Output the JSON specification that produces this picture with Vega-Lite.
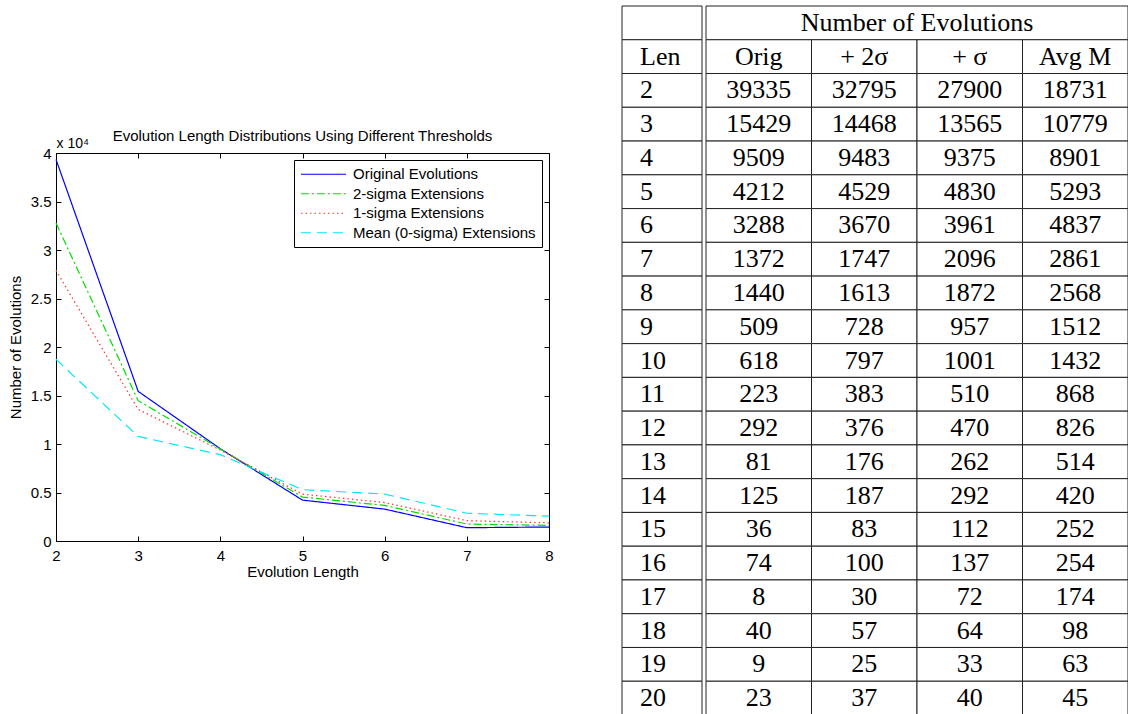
{
  "$schema": "https://vega.github.io/schema/vega-lite/v6.json",
  "padding": {"left": 8, "top": 5, "right": 0, "bottom": 0},
  "background": "white",
  "config": {"view": {"stroke": null}, "font": "Liberation Sans"},
  "datasets": {
    "evo": [
      {"Len": 2, "Orig": 39335, "Sigma2": 32795, "Sigma1": 27900, "AvgM": 18731},
      {"Len": 3, "Orig": 15429, "Sigma2": 14468, "Sigma1": 13565, "AvgM": 10779},
      {"Len": 4, "Orig": 9509, "Sigma2": 9483, "Sigma1": 9375, "AvgM": 8901},
      {"Len": 5, "Orig": 4212, "Sigma2": 4529, "Sigma1": 4830, "AvgM": 5293},
      {"Len": 6, "Orig": 3288, "Sigma2": 3670, "Sigma1": 3961, "AvgM": 4837},
      {"Len": 7, "Orig": 1372, "Sigma2": 1747, "Sigma1": 2096, "AvgM": 2861},
      {"Len": 8, "Orig": 1440, "Sigma2": 1613, "Sigma1": 1872, "AvgM": 2568},
      {"Len": 9, "Orig": 509, "Sigma2": 728, "Sigma1": 957, "AvgM": 1512},
      {"Len": 10, "Orig": 618, "Sigma2": 797, "Sigma1": 1001, "AvgM": 1432},
      {"Len": 11, "Orig": 223, "Sigma2": 383, "Sigma1": 510, "AvgM": 868},
      {"Len": 12, "Orig": 292, "Sigma2": 376, "Sigma1": 470, "AvgM": 826},
      {"Len": 13, "Orig": 81, "Sigma2": 176, "Sigma1": 262, "AvgM": 514},
      {"Len": 14, "Orig": 125, "Sigma2": 187, "Sigma1": 292, "AvgM": 420},
      {"Len": 15, "Orig": 36, "Sigma2": 83, "Sigma1": 112, "AvgM": 252},
      {"Len": 16, "Orig": 74, "Sigma2": 100, "Sigma1": 137, "AvgM": 254},
      {"Len": 17, "Orig": 8, "Sigma2": 30, "Sigma1": 72, "AvgM": 174},
      {"Len": 18, "Orig": 40, "Sigma2": 57, "Sigma1": 64, "AvgM": 98},
      {"Len": 19, "Orig": 9, "Sigma2": 25, "Sigma1": 33, "AvgM": 63},
      {"Len": 20, "Orig": 23, "Sigma2": 37, "Sigma1": 40, "AvgM": 45}
    ]
  },
  "spacing": 67,
  "resolve": {"legend": {"color": "independent", "strokeDash": "independent"}, "scale": {"color": "independent", "strokeDash": "independent"}},
  "hconcat": [
    {
      "spacing": 0,
      "resolve": {"legend": {"color": "independent", "strokeDash": "independent"}, "scale": {"color": "independent", "strokeDash": "independent"}},
      "vconcat": [
        {
          "width": 493,
          "height": 123,
          "data": {"values": [{}]},
          "mark": {"type": "text", "text": ""},
          "encoding": {}
        },
        {
          "width": 493,
          "height": 388,
          "data": {"name": "evo"},
          "transform": [
            {"filter": "datum.Len <= 8"},
            {"fold": ["Orig", "Sigma2", "Sigma1", "AvgM"], "as": ["series", "value"]}
          ],
          "title": {
            "text": "Evolution Length Distributions Using Different Thresholds",
            "fontSize": 15, "fontWeight": "normal", "font": "Liberation Sans",
            "color": "black", "anchor": "middle", "frame": "group", "offset": -8
          },
          "layer": [
            {
              "mark": {"type": "line", "strokeWidth": 1.2},
              "encoding": {
                "x": {
                  "field": "Len", "type": "quantitative",
                  "scale": {"domain": [2, 8], "nice": false, "zero": false},
                  "axis": {
                    "orient": "bottom", "values": [2, 3, 4, 5, 6, 7, 8], "title": "Evolution Length",
                    "grid": false, "tickSize": -5, "labelPadding": 12, "labelFlush": false,
                    "domainColor": "black", "tickColor": "black", "labelColor": "black",
                    "labelFontSize": 15, "titleFontSize": 15, "titleFontWeight": "normal",
                    "titleColor": "black", "titlePadding": 1
                  }
                },
                "y": {
                  "field": "value", "type": "quantitative",
                  "scale": {"domain": [0, 40000], "nice": false},
                  "axis": {
                    "orient": "left", "values": [0, 5000, 10000, 15000, 20000, 25000, 30000, 35000, 40000],
                    "labelExpr": "datum.value / 10000", "title": "Number of Evolutions",
                    "grid": false, "tickSize": -5, "labelPadding": 10,
                    "domainColor": "black", "tickColor": "black", "labelColor": "black",
                    "labelFontSize": 15, "titleFontSize": 15, "titleFontWeight": "normal",
                    "titleColor": "black", "titlePadding": 7
                  }
                },
                "color": {
                  "field": "series", "type": "nominal",
                  "scale": {"domain": ["Orig", "Sigma2", "Sigma1", "AvgM"], "range": ["#0000ff", "#00e000", "#ff3030", "#00e8ff"]},
                  "legend": {
                    "orient": "top-right", "offset": 7, "title": null,
                    "strokeColor": "black", "fillColor": "white", "padding": 6,
                    "symbolType": "stroke", "symbolSize": 2025, "symbolStrokeWidth": 1.2,
                    "clipHeight": 16.5, "rowPadding": 2.5, "labelLimit": 400,
                    "labelFontSize": 15, "labelColor": "black", "labelOffset": 6,
                    "labelExpr": "datum.label == 'Orig' ? 'Original Evolutions' : datum.label == 'Sigma2' ? '2-sigma Extensions' : datum.label == 'Sigma1' ? '1-sigma Extensions' : 'Mean (0-sigma) Extensions'"
                  }
                },
                "strokeDash": {
                  "field": "series", "type": "nominal",
                  "scale": {"domain": ["Orig", "Sigma2", "Sigma1", "AvgM"], "range": [[1, 0], [8, 3, 2, 3], [1.5, 3], [10, 6]]}
                }
              }
            },
            {
              "mark": {"type": "point", "opacity": 0},
              "encoding": {
                "x": {
                  "field": "Len", "type": "quantitative",
                  "scale": {"domain": [2, 8], "nice": false, "zero": false},
                  "axis": {
                    "orient": "top", "values": [2, 3, 4, 5, 6, 7, 8], "labels": false, "grid": false,
                    "tickSize": -5, "domainColor": "black", "tickColor": "black",
                    "title": "x 10⁴", "titleX": 0, "titleY": -6, "titleAlign": "left",
                    "titleBaseline": "alphabetic", "titleAngle": 0, "titleFontSize": 14,
                    "titleFontWeight": "normal", "titleColor": "black"
                  }
                },
                "y": {
                  "field": "value", "type": "quantitative",
                  "scale": {"domain": [0, 40000], "nice": false},
                  "axis": {
                    "orient": "right", "values": [0, 5000, 10000, 15000, 20000, 25000, 30000, 35000, 40000],
                    "labels": false, "grid": false, "tickSize": -5, "title": null,
                    "domainColor": "black", "tickColor": "black"
                  }
                }
              }
            }
          ],
          "resolve": {"axis": {"x": "independent", "y": "independent"}}
        }
      ]
    },
    {
      "spacing": 2,
      "hconcat": [
        {
          "width": 80,
          "height": 709,
          "layer": [
            {
              "data": {"values": [{"row": "h1", "label": ""}, {"row": "h2", "label": "Len"}]},
              "layer": [
                {
                  "mark": {"type": "rect", "fill": "white", "stroke": "#222", "strokeWidth": 1},
                  "encoding": {
                    "y": {"field": "row", "type": "nominal", "axis": null,
                      "scale": {"type": "band", "paddingInner": 0, "paddingOuter": 0, "domain": ["h1", "h2", 2, 3, 4, 5, 6, 7, 8, 9, 10, 11, 12, 13, 14, 15, 16, 17, 18, 19, 20]}}
                  }
                },
                {
                  "mark": {"type": "text", "font": "Liberation Serif", "fontSize": 26, "color": "black", "align": "left", "baseline": "middle", "dx": -22},
                  "encoding": {
                    "y": {"field": "row", "type": "nominal", "axis": null},
                    "text": {"field": "label"}
                  }
                }
              ]
            },
            {
              "data": {"name": "evo"},
              "layer": [
                {
                  "mark": {"type": "rect", "fill": "white", "stroke": "#222", "strokeWidth": 1},
                  "encoding": {
                    "y": {"field": "Len", "type": "nominal", "axis": null}
                  }
                },
                {
                  "mark": {"type": "text", "font": "Liberation Serif", "fontSize": 26, "color": "black", "align": "left", "baseline": "middle", "dx": -22},
                  "encoding": {
                    "y": {"field": "Len", "type": "nominal", "axis": null},
                    "text": {"field": "Len"}
                  }
                }
              ]
            }
          ]
        },
        {
          "width": 422,
          "height": 709,
          "layer": [
            {
              "data": {"values": [{"row": "h1", "label": "Number of Evolutions"}]},
              "layer": [
                {
                  "mark": {"type": "rect", "fill": "white", "stroke": "#222", "strokeWidth": 1},
                  "encoding": {
                    "y": {"field": "row", "type": "nominal", "axis": null,
                      "scale": {"type": "band", "paddingInner": 0, "paddingOuter": 0, "domain": ["h1", "h2", 2, 3, 4, 5, 6, 7, 8, 9, 10, 11, 12, 13, 14, 15, 16, 17, 18, 19, 20]}}
                  }
                },
                {
                  "mark": {"type": "text", "font": "Liberation Serif", "fontSize": 26, "color": "black", "align": "center", "baseline": "middle"},
                  "encoding": {
                    "y": {"field": "row", "type": "nominal", "axis": null},
                    "text": {"field": "label"}
                  }
                }
              ]
            },
            {
              "data": {"values": [
                {"row": "h2", "col": "Orig", "label": "Orig"},
                {"row": "h2", "col": "Sigma2", "label": "+ 2σ"},
                {"row": "h2", "col": "Sigma1", "label": "+ σ"},
                {"row": "h2", "col": "AvgM", "label": "Avg M"}
              ]},
              "layer": [
                {
                  "mark": {"type": "rect", "fill": "white", "stroke": "#222", "strokeWidth": 1},
                  "encoding": {
                    "x": {"field": "col", "type": "nominal", "axis": null,
                      "scale": {"type": "band", "paddingInner": 0, "paddingOuter": 0, "domain": ["Orig", "Sigma2", "Sigma1", "AvgM"]}},
                    "y": {"field": "row", "type": "nominal", "axis": null}
                  }
                },
                {
                  "mark": {"type": "text", "font": "Liberation Serif", "fontSize": 26, "color": "black", "align": "center", "baseline": "middle"},
                  "encoding": {
                    "x": {"field": "col", "type": "nominal", "axis": null},
                    "y": {"field": "row", "type": "nominal", "axis": null},
                    "text": {"field": "label"}
                  }
                }
              ]
            },
            {
              "data": {"name": "evo"},
              "transform": [{"fold": ["Orig", "Sigma2", "Sigma1", "AvgM"], "as": ["col", "value"]}],
              "layer": [
                {
                  "mark": {"type": "rect", "fill": "white", "stroke": "#222", "strokeWidth": 1},
                  "encoding": {
                    "x": {"field": "col", "type": "nominal", "axis": null},
                    "y": {"field": "Len", "type": "nominal", "axis": null}
                  }
                },
                {
                  "mark": {"type": "text", "font": "Liberation Serif", "fontSize": 26, "color": "black", "align": "center", "baseline": "middle"},
                  "encoding": {
                    "x": {"field": "col", "type": "nominal", "axis": null},
                    "y": {"field": "Len", "type": "nominal", "axis": null},
                    "text": {"field": "value", "type": "quantitative", "format": "d"}
                  }
                }
              ]
            }
          ]
        }
      ]
    }
  ]
}
